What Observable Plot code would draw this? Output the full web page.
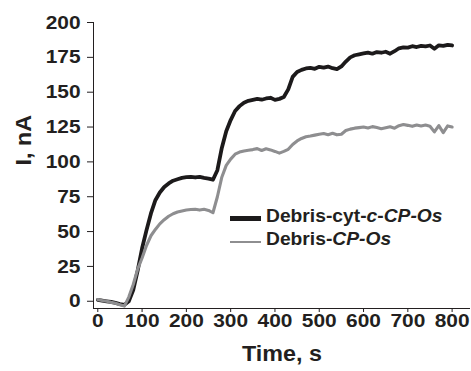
<!DOCTYPE html>
<html><head><meta charset="utf-8">
<script src="https://cdn.jsdelivr.net/npm/d3@7"></script>
<script src="https://cdn.jsdelivr.net/npm/@observablehq/plot@0.6"></script>
<style>
html,body{margin:0;padding:0;background:#fff;}
#chart{position:relative;width:471px;height:371px;font-family:"Liberation Sans",Arial,sans-serif;}
#legend{position:absolute;left:230px;top:204.5px;font-weight:bold;font-size:17.5px;color:#231f20;}
.row{display:flex;align-items:center;height:23.5px;}
.sw{width:31px;margin-right:5px;position:relative;top:2px;}
.lbl{display:inline-block;transform:scaleX(1.1);transform-origin:left center;white-space:nowrap;}
</style></head><body><div id="chart"></div><script>
const seriesNames = ["Debris-cyt-c-CP-Os", "Debris-CP-Os"];
const xTitle = "Time, s";
const yTitle = "I, nA";
const xTicks = [0, 100, 200, 300, 400, 500, 600, 700, 800];
const yTicks = [0, 25, 50, 75, 100, 125, 150, 175, 200];
const xDomain = [-9.7, 841.5];
const yDomain = [-5.2, 200];
const times = [0,10,20,30,40,50,60,70,80,90,100,110,120,130,140,150,160,170,180,190,200,210,220,230,240,250,260,270,280,290,300,310,320,330,340,350,360,370,380,390,400,410,420,430,440,450,460,470,480,490,500,510,520,530,540,550,560,570,580,590,600,610,620,630,640,650,660,670,680,690,700,710,720,730,740,750,760,770,780,790,800];
const blackSeries = [1.0,0.5,0,-0.5,-1.2,-2,-2.6,0,8,22,38,51,63,72.5,78,82,84.5,86.5,87.5,88.5,89,89.3,88.8,89.2,88.5,88,87.2,94,110,122,130,136.5,140,142.5,143.8,144.5,145.2,144.6,145.5,146,144.5,145.2,146.5,152,161,164.5,166,167,167.5,166.8,168.2,167.6,168.4,167.2,166.5,168.5,172,175,176.5,177.2,177.8,178.4,177.6,178.8,178.3,179,177.6,179.4,181.5,182.2,182,183,182.4,183.2,182.8,183.5,181.2,183.6,183.2,184,183.5];
const graySeries = [1.2,0.5,0,-0.8,-1.5,-2.5,-3.5,3,12,23,31,40,47,51.5,55.5,58.5,61,62.8,64,64.8,65.5,65.8,66,65.4,66,65.2,63.5,75,89,97.5,102,105.5,107,107.8,108.3,108.8,109.5,108.2,109.4,108.6,107.5,106.3,107.5,109,112.5,115,116.8,118,118.5,119.2,119.8,120.3,119.5,120.5,119.4,119.8,122.5,123.5,124.2,124.6,125,124.3,125.3,124.6,123.8,124.5,125.2,124.2,126,126.8,126.2,125.5,126.5,125.8,126.4,125.6,121.5,126,121,125.8,125];
const colors = ["#1c1a1b", "#8e8e90"];

const blackData = times.map((t, i) => ({t, v: blackSeries[i]}));
const grayData = times.map((t, i) => ({t, v: graySeries[i]}));

const chart = Plot.plot({
  width: 471, height: 371,
  marginLeft: 93, marginRight: 1, marginTop: 22, marginBottom: 63,
  x: {domain: xDomain},
  y: {domain: yDomain},
  style: {fontFamily: "'Liberation Sans', Arial, sans-serif", fontWeight: "bold", fontSize: "19px", color: "#231f20", background: "white"},
  marks: [
    Plot.axisY({ticks: yTicks, tickSize: 6, tickPadding: 7, label: null}),
    Plot.axisX({ticks: xTicks, tickSize: 4, tickPadding: 1, label: null}),
    Plot.ruleX([xDomain[0]], {stroke: "#231f20", strokeWidth: 1}),
    Plot.ruleY([yDomain[0]], {stroke: "#231f20", strokeWidth: 1}),
    Plot.line(blackData, {x: "t", y: "v", stroke: colors[0], strokeWidth: 3.8, strokeLinejoin: "round"}),
    Plot.line(grayData, {x: "t", y: "v", stroke: colors[1], strokeWidth: 3.1, strokeLinejoin: "round"}),
    Plot.text([xTitle], {text: d => d, frameAnchor: "bottom", dy: 52.7, fontSize: 22}),
    Plot.text([yTitle], {text: d => d, frameAnchor: "left", dx: -70, rotate: -90, fontSize: 22})
  ]
});
const container = document.getElementById("chart");
container.append(chart);
chart.querySelectorAll("text").forEach(t => {
  const f = /^\d+$/.test(t.textContent.trim()) ? 1.1 : 1.06;
  const L = t.getComputedTextLength();
  t.setAttribute("textLength", L * f);
  t.setAttribute("lengthAdjust", "spacingAndGlyphs");
});

const legend = document.createElement("div");
legend.id = "legend";
const labelsHtml = [
  "Debris-cyt-<i>c</i>-<i>CP-Os</i>",
  "Debris-<i>CP-Os</i>"
];
const widths = [4.5, 2.3];
seriesNames.forEach((name, i) => {
  const row = document.createElement("div");
  row.className = "row";
  const sw = document.createElement("div");
  sw.className = "sw";
  sw.style.height = widths[i] + "px";
  sw.style.background = colors[i];
  const lbl = document.createElement("span");
  lbl.className = "lbl";
  lbl.innerHTML = labelsHtml[i];
  lbl.setAttribute("title", name);
  row.append(sw, lbl);
  legend.append(row);
});
container.append(legend);
</script></body></html>
